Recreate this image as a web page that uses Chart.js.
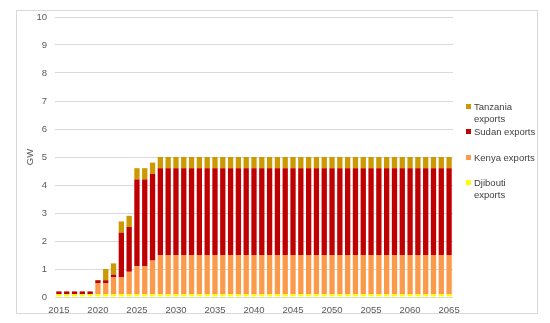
<!DOCTYPE html>
<html lang="en">
<head>
    <meta charset="UTF-8">
    <title>Power exports (GW)</title>
    <script src="https://cdn.jsdelivr.net/npm/chart.js"></script>
    <style>
        body { margin: 0; background: #ffffff; font-family: "Liberation Sans", Arial, sans-serif; }
        #wrap { position: relative; width: 550px; height: 323px; }
        #frame { position: absolute; left: 16px; top: 10px; width: 520px; height: 302px; border: 1px solid #d9d9d9; }
        #chart { position: absolute; left: 0; top: 0; }
        /* legend drawn as html so two-line labels are easy */
        .lg { position: absolute; left: 466px; font-size: 9.5px; color: #404040; line-height: 12px; }
        .lg span.sw { position: absolute; left: 0; top: 3px; width: 5px; height: 5px; }
        .lg span.tx { display: block; padding-left: 8px; }
    </style>
</head>
<body>
<div id="wrap">
    <div id="frame"></div>
    <canvas id="chart" width="550" height="323"></canvas>
    <div id="legend"></div>
</div>
<script>
    const years = [2015, 2016, 2017, 2018, 2019, 2020, 2021, 2022, 2023, 2024,
        2025, 2026, 2027, 2028, 2029, 2030, 2031, 2032, 2033, 2034,
        2035, 2036, 2037, 2038, 2039, 2040, 2041, 2042, 2043, 2044,
        2045, 2046, 2047, 2048, 2049, 2050, 2051, 2052, 2053, 2054,
        2055, 2056, 2057, 2058, 2059, 2060, 2061, 2062, 2063, 2064, 2065];

    // GW per year, stacked bottom to top
    const djibouti = [0.1, 0.1, 0.1, 0.1, 0.1, 0.1, 0.1, 0.1, 0.1, 0.1,
        0.1, 0.1, 0.1, 0.1, 0.1, 0.1, 0.1, 0.1, 0.1, 0.1,
        0.1, 0.1, 0.1, 0.1, 0.1, 0.1, 0.1, 0.1, 0.1, 0.1,
        0.1, 0.1, 0.1, 0.1, 0.1, 0.1, 0.1, 0.1, 0.1, 0.1,
        0.1, 0.1, 0.1, 0.1, 0.1, 0.1, 0.1, 0.1, 0.1, 0.1, 0.1];
    const kenya = [0, 0, 0, 0, 0, 0.4, 0.4, 0.6, 0.6, 0.8,
        1.0, 1.0, 1.2, 1.4, 1.4, 1.4, 1.4, 1.4, 1.4, 1.4,
        1.4, 1.4, 1.4, 1.4, 1.4, 1.4, 1.4, 1.4, 1.4, 1.4,
        1.4, 1.4, 1.4, 1.4, 1.4, 1.4, 1.4, 1.4, 1.4, 1.4,
        1.4, 1.4, 1.4, 1.4, 1.4, 1.4, 1.4, 1.4, 1.4, 1.4, 1.4];
    const sudan = [0.1, 0.1, 0.1, 0.1, 0.1, 0.1, 0.1, 0.1, 1.6, 1.6,
        3.1, 3.1, 3.1, 3.1, 3.1, 3.1, 3.1, 3.1, 3.1, 3.1,
        3.1, 3.1, 3.1, 3.1, 3.1, 3.1, 3.1, 3.1, 3.1, 3.1,
        3.1, 3.1, 3.1, 3.1, 3.1, 3.1, 3.1, 3.1, 3.1, 3.1,
        3.1, 3.1, 3.1, 3.1, 3.1, 3.1, 3.1, 3.1, 3.1, 3.1, 3.1];
    const tanzania = [0, 0, 0, 0, 0, 0, 0.4, 0.4, 0.4, 0.4,
        0.4, 0.4, 0.4, 0.4, 0.4, 0.4, 0.4, 0.4, 0.4, 0.4,
        0.4, 0.4, 0.4, 0.4, 0.4, 0.4, 0.4, 0.4, 0.4, 0.4,
        0.4, 0.4, 0.4, 0.4, 0.4, 0.4, 0.4, 0.4, 0.4, 0.4,
        0.4, 0.4, 0.4, 0.4, 0.4, 0.4, 0.4, 0.4, 0.4, 0.4, 0.4];

    const yTicks = [0, 1, 2, 3, 4, 5, 6, 7, 8, 9, 10];

    const seriesNames = ['Djibouti exports', 'Kenya exports', 'Sudan exports', 'Tanzania exports'];
    const seriesColors = ['#ffff00', '#fb9a4b', '#c00000', '#cc9900'];
    const seriesData = [djibouti, kenya, sudan, tanzania];

    Chart.defaults.font.family = '"Liberation Sans", Arial, sans-serif';
    Chart.defaults.color = '#595959';

    new Chart(document.getElementById('chart').getContext('2d'), {
        type: 'bar',
        data: {
            labels: years,
            datasets: seriesNames.map((name, i) => ({
                label: name,
                data: seriesData[i],
                backgroundColor: seriesColors[i],
                borderWidth: 0,
                barPercentage: 0.68,
                categoryPercentage: 1.0
            }))
        },
        options: {
            responsive: false,
            animation: false,
            layout: { padding: { left: 25, right: 97, top: 17, bottom: 0 } },
            plugins: { legend: { display: false }, tooltip: { enabled: false } },
            scales: {
                x: {
                    stacked: true,
                    grid: { display: false },
                    border: { display: false },
                    ticks: {
                        autoSkip: false, maxRotation: 0, padding: 0,
                        font: { size: 9.5 },
                        callback: function (v, i) { return years[i] % 5 === 0 ? String(years[i]) : ''; }
                    },
                    afterFit: s => { s.height = 26; }
                },
                y: {
                    stacked: true,
                    min: 0, max: 10,
                    afterBuildTicks: s => { s.ticks = yTicks.map(v => ({ value: v })); },
                    grid: { color: '#d9d9d9', drawTicks: false },
                    border: { display: false },
                    ticks: { padding: 8, font: { size: 9.5 } },
                    title: { display: true, text: 'GW', font: { size: 9.5 }, padding: { top: 0, bottom: 0 } },
                    afterFit: s => { s.width = 30; }
                }
            }
        }
    });

    // legend, top to bottom as in the original
    const legendItems = [
        { lines: ['Tanzania', 'exports'], color: '#cc9900', top: 101 },
        { lines: ['Sudan exports'], color: '#c00000', top: 126 },
        { lines: ['Kenya exports'], color: '#fb9a4b', top: 152 },
        { lines: ['Djibouti', 'exports'], color: '#ffff00', top: 177 }
    ];
    const lg = document.getElementById('legend');
    legendItems.forEach(it => {
        const d = document.createElement('div');
        d.className = 'lg';
        d.style.top = it.top + 'px';
        d.innerHTML = '<span class="sw" style="background:' + it.color + '"></span>' +
            it.lines.map(t => '<span class="tx">' + t + '</span>').join('');
        lg.appendChild(d);
    });
</script>
</body>
</html>
